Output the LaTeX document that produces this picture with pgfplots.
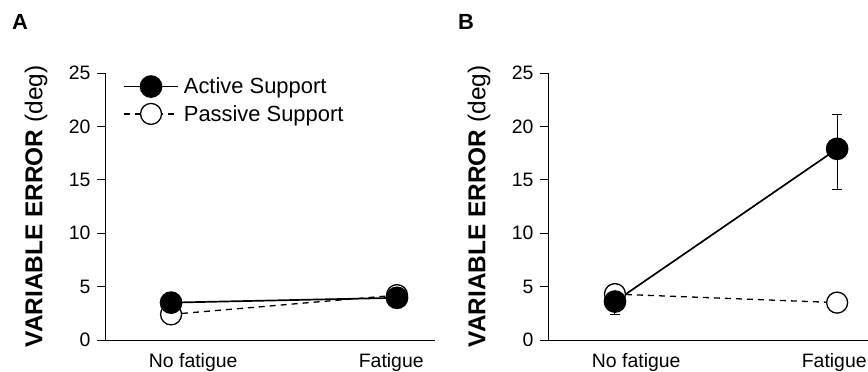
\documentclass[border=0pt]{standalone}
\usepackage{fontspec}
\setmainfont{Liberation Sans}
\usepackage{pgfplots}
\pgfplotsset{compat=1.18}
\pgfplotsset{
  myaxis/.style={
    scale only axis, width=330bp, height=267bp,
    xmin=0, xmax=1.833, ymin=0, ymax=25,
    axis lines*=left,
    axis line style={line width=1bp, black},
    ytick={0,5,10,15,20,25},
    xtick={0.49,1.59}, xticklabels={No fatigue,Fatigue},
    xtick style={draw=none},
    extra x ticks={0,1,1.833}, extra x tick labels={},
    extra x tick style={tick style={draw=black, line width=1bp}},
    tick align=outside, major tick length=8bp,
    tick style={line width=1bp, black},
    /pgf/number format/assume math mode=true,
    tick label style={font=\fontsize{19.5}{22}\selectfont},
    yticklabel style={xshift=-3bp},
    xticklabel style={yshift=-2bp},
    every axis y label/.style={at={(axis description cs:-0.209,0.5)}, rotate=90, anchor=center,
      font=\fontsize{24.5}{28}\selectfont},
    ylabel={\textbf{VARIABLE ERROR} (deg)},
    clip=false,
  },
  active/.style={black, line width=1.7bp, mark=*, mark size=10.5bp, mark options={solid, fill=black}},
  passive/.style={black, line width=1.3bp, dash pattern=on 6bp off 5bp, mark=*, mark size=10.5bp, mark options={solid, fill=white, line width=1.3bp}},
}
\begin{document}
\begin{tikzpicture}
\useasboundingbox (0bp,0bp) rectangle (868bp,-372bp);
\clip (0bp,0bp) rectangle (868bp,-372bp);
\node[font=\fontsize{22}{26}\selectfont\bfseries] at (20bp,-22bp) {A};
\node[font=\fontsize{22}{26}\selectfont\bfseries] at (466bp,-22bp) {B};

% Panel A
\begin{axis}[myaxis, at={(105bp,-340bp)}, anchor=south west,
  legend style={at={(axis description cs:0.0545,0.99)}, anchor=north west, draw=none, fill=none,
    font=\fontsize{22}{25}\selectfont, inner sep=0pt, row sep=6bp, legend cell align=left,
    nodes={inner xsep=5bp}},
  legend image code/.code={\draw[mark repeat=2, mark phase=2] plot coordinates {(0bp,0bp) (27bp,0bp) (54bp,0bp)};},
  reverse legend,
]
\addplot[passive] coordinates {(0.367,2.4) (1.622,4.2)};
\addlegendentry{Passive Support}
\addplot[active] coordinates {(0.367,3.5) (1.622,3.95)};
\addlegendentry{Active Support}
\end{axis}

% Panel B
\begin{axis}[myaxis, at={(548bp,-340bp)}, anchor=south west]
\addplot[passive] coordinates {(0.372,4.3) (1.606,3.5)};
\addplot[active,
  error bars/.cd, y dir=both, y explicit,
  error bar style={line width=1bp, black, solid},
  error mark options={black, draw=black, mark size=5bp, line width=1bp, rotate=90}]
  coordinates {(0.372,3.6) +=(0,1.2) -=(0,1.2) (1.606,17.9) +=(0,3.2) -=(0,3.8)};
\end{axis}
\end{tikzpicture}
\end{document}
